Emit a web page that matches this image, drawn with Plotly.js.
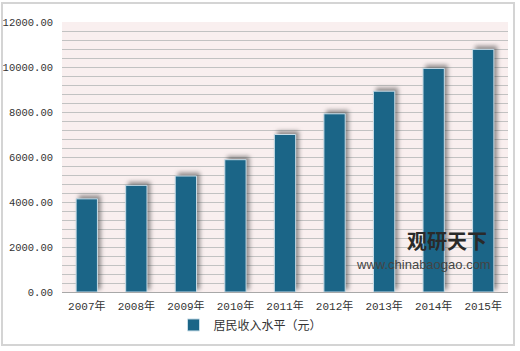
<!DOCTYPE html>
<html>
<head>
<meta charset="utf-8">
<script src="https://cdn.plot.ly/plotly-3.0.1.min.js"></script>
<style>
html,body{margin:0;padding:0;background:#fff;}
#wrap{width:520px;height:351px;position:relative;overflow:hidden;}
#frame{position:absolute;left:1px;top:2px;width:514px;height:344px;border:2px solid #d4d4d4;box-sizing:border-box;pointer-events:none;}
#chart{width:520px;height:351px;}
.bars path{filter:drop-shadow(3px -3px 2px rgba(60,60,60,0.55));}
</style>
</head>
<body>
<div id="wrap"><div id="chart"></div><div id="frame"></div></div>
<script>
const categories = ["2007年","2008年","2009年","2010年","2011年","2012年","2013年","2014年","2015年"];
const income = [4140, 4740, 5155, 5880, 7000, 7920, 8925, 9937, 10784];
const seriesName = "居民收入水平（元）";
const yTicks = [0, 2000, 4000, 6000, 8000, 10000, 12000];
const yTickLabels = yTicks.map(v => v.toFixed(2));

const trace = {
  type: "bar",
  x: categories,
  y: income,
  name: seriesName,
  width: 0.43,
  marker: {color: "#1b6587", line: {color: "#c8dde8", width: 1}},
  hoverinfo: "x+y"
};

const layout = {
  width: 520, height: 351,
  margin: {l: 62, r: 12, t: 22, b: 59},
  paper_bgcolor: "#ffffff",
  plot_bgcolor: "#f9efef",
  font: {family: "Liberation Mono, Noto Sans CJK SC, monospace", size: 11, color: "#333"},
  xaxis: {
    type: "category",
    showgrid: false,
    showline: true, linecolor: "#a8a8a8", linewidth: 1,
    ticks: "", tickfont: {size: 11, family: "Liberation Mono, Noto Sans CJK SC", color: "#333"},
    ticklabelstandoff: 4
  },
  yaxis: {
    range: [0, 12000],
    tickvals: yTicks, ticktext: yTickLabels,
    showgrid: true, gridcolor: "#c2c2c2", gridwidth: 1,
    minor: {dtick: 400, showgrid: true, gridcolor: "#c2c2c2", gridwidth: 1},
    zeroline: false, showline: false, ticks: "",
    tickfont: {size: 10.5, family: "Liberation Mono, monospace", color: "#333"},
    ticklabelstandoff: 8
  },
  showlegend: true,
  legend: {
    orientation: "h", x: 0.25, xanchor: "left", y: -0.122, yanchor: "middle",
    font: {size: 12, family: "Noto Sans CJK SC", color: "#333"},
    itemwidth: 30, tracegroupgap: 0
  },
  annotations: [
    {xref: "paper", yref: "paper", x: 0.863, y: 0.19, xanchor: "center", yanchor: "middle",
     text: "<b>观研天下</b>", showarrow: false, font: {size: 20, family: "Noto Sans CJK SC", color: "#2a2a2a"}},
    {xref: "paper", yref: "paper", x: 0.81, y: 0.103, xanchor: "center", yanchor: "middle",
     text: "www.chinabaogao.com", showarrow: false, font: {size: 13, family: "Liberation Sans", color: "#444"}}
  ]
};

Plotly.newPlot("chart", [trace], layout, {displayModeBar: false, staticPlot: true});
</script>
</body>
</html>
